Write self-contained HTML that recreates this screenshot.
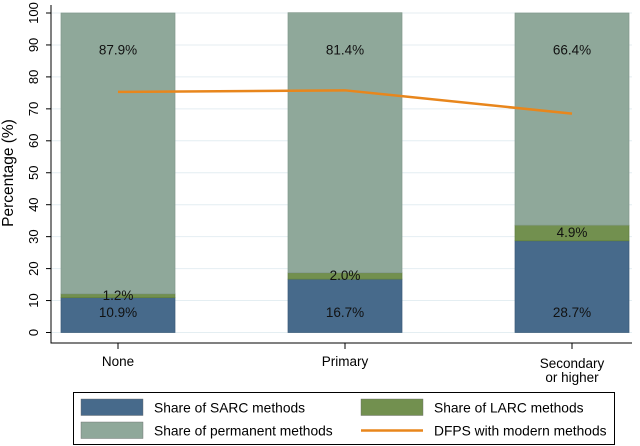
<!DOCTYPE html>
<html><head><meta charset="utf-8"><style>
body{margin:0;background:#fff;font-family:"Liberation Sans",Arial,sans-serif}
svg{display:block}
</style></head><body>
<svg id="chart" width="640" height="446" xmlns="http://www.w3.org/2000/svg" font-family="Liberation Sans, Arial, sans-serif"></svg>
<script>
const categories=["None","Primary","Secondary|or higher"];
const sarc=[10.9,16.7,28.7];
const larc=[1.2,2.0,4.9];
const permanent=[87.9,81.4,66.4];
const dfps=[75.3,75.8,68.5];
const yTicks=[0,10,20,30,40,50,60,70,80,90,100];
const NS="http://www.w3.org/2000/svg";
const svg=document.getElementById("chart");
const y=v=>332.5-v*3.195;
const x=i=>118+i*227;
const bw=114;
function el(t,a,p){const e=document.createElementNS(NS,t);for(const k in a)e.setAttribute(k,a[k]);(p||svg).appendChild(e);return e;}
yTicks.forEach(v=>{
 const g=el("line",{x1:51,x2:632,y1:y(v),y2:y(v),stroke:"#e4eef2","stroke-width":1});
 
 
 const t=el("line",{x1:46,x2:51,y1:y(v),y2:y(v),stroke:"#000"});
 
 
 const l=el("text",{x:0,y:0,transform:`translate(38,${y(v)}) rotate(-90)`,"text-anchor":"middle","font-size":13});
 l.textContent=v;
 
 
});
const colors=["#476a8b","#72904f","#8fa89a"];
categories.forEach((c,i)=>{
 const segs=[sarc[i],larc[i],permanent[i]];
 let base=0;
 segs.forEach((s,j)=>{
  const r=el("rect",{x:x(i)-bw/2,y:y(base+s),width:bw,height:y(base)-y(base+s),fill:colors[j],stroke:j==0?"#3a5a78":(j==1?"#5f7d40":"#82998c"),"stroke-width":0.7});
  
  
  base+=s;
 });
 const lbls=[[sarc[i],6.4],[larc[i],sarc[i]+larc[i]/2+0.2],[permanent[i],88.5]];
 lbls.forEach((p,j)=>{
  const t=el("text",{x:x(i),y:y(p[1])+4.8,"text-anchor":"middle","font-size":13.5,fill:"#111"});
  t.textContent=p[0].toFixed(1)+"%";
  
  
 });
 const tk=el("line",{x1:x(i),x2:x(i),y1:343,y2:349,stroke:"#000"});
 
 
 const lines=c.split("|");
 lines.forEach((ln,k)=>{
  const t=el("text",{x:x(i),y:(lines.length>1?368:366)+k*14,"text-anchor":"middle","font-size":13.5});
  t.textContent=ln;
  
  
 });
});
const pl=el("polyline",{points:dfps.map((v,i)=>x(i)+","+y(v)).join(" "),fill:"none",stroke:"#e8861c","stroke-width":2.5});


const ax=el("path",{d:"M51,5 V343 H632",fill:"none",stroke:"#000","stroke-width":1});


const yt=el("text",{x:0,y:0,transform:"translate(13,173) rotate(-90)","text-anchor":"middle","font-size":15.5});
yt.textContent="Percentage (%)";


const lg=el("rect",{x:73.5,y:392.5,width:541,height:52,fill:"#fff",stroke:"#000"});


const legItems=[["Share of SARC methods",81,399,"#476a8b","rect"],["Share of LARC methods",361,399,"#72904f","rect"],["Share of permanent methods",81,422,"#8fa89a","rect"],["DFPS with modern methods",361,422,"#e8861c","line"]];
legItems.forEach(it=>{
 let s;
 if(it[4]=="rect"){s=el("rect",{x:it[1],y:it[2],width:62,height:16.5,fill:it[3],stroke:"#666","stroke-width":0.4});}
 else{s=el("line",{x1:it[1],x2:it[1]+62,y1:it[2]+8.5,y2:it[2]+8.5,stroke:it[3],"stroke-width":2.5});}
 
 
 const t=el("text",{x:it[1]+73,y:it[2]+13.5,"font-size":13.8});
 t.textContent=it[0];
 
 
});
</script>
</body></html>
